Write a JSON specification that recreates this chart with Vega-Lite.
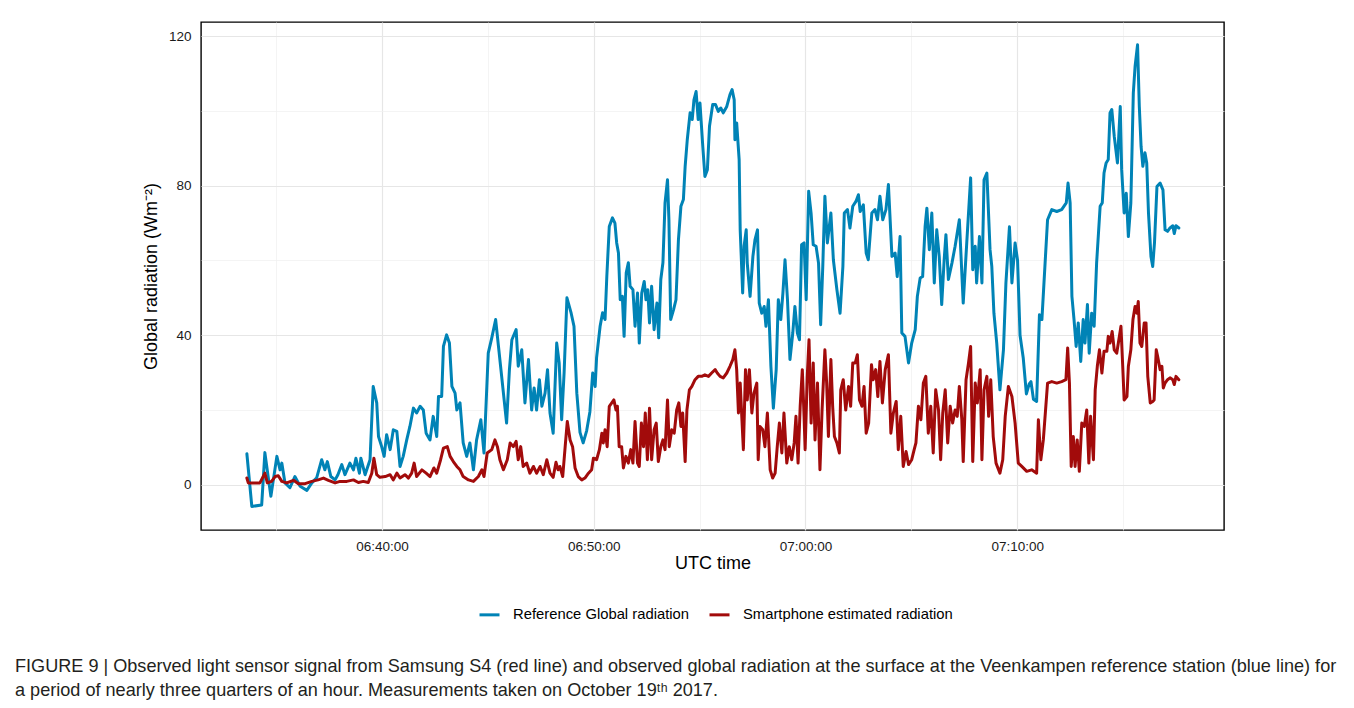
{
  "$schema": "https://vega.github.io/schema/vega-lite/v6.json",
  "width": 1023,
  "height": 508,
  "autosize": {"type": "none"},
  "padding": {"left": 201, "top": 22, "right": 130, "bottom": 178},
  "background": "white",
  "config": {
    "font": "Liberation Sans",
    "view": {"stroke": "#000000", "strokeWidth": 1.4},
    "axis": {
      "domain": false,
      "ticks": false,
      "labelFont": "Liberation Sans",
      "labelFontSize": 13.5,
      "labelColor": "#1a1a1a",
      "titleFont": "Liberation Sans",
      "titleFontSize": 18,
      "titleFontWeight": "normal",
      "titleColor": "#000000"
    }
  },
  "title": {
    "text": [
      "FIGURE 9 | Observed light sensor signal from Samsung S4 (red line) and observed global radiation at the surface at the Veenkampen reference station (blue line) for",
      "a period of nearly three quarters of an hour. Measurements taken on October 19ᵗʰ 2017."
    ],
    "orient": "bottom",
    "anchor": "start",
    "frame": "group",
    "dx": -186,
    "offset": 36,
    "font": "Liberation Sans",
    "fontSize": 18.1,
    "fontWeight": "normal",
    "lineHeight": 24,
    "color": "#231f20"
  },
  "datasets": {
    "ref": [
      {"t":"2017-10-19T06:33:37Z","v":8.3},{"t":"2017-10-19T06:33:51Z","v":-5.8},{"t":"2017-10-19T06:34:19Z","v":-5.4},{"t":"2017-10-19T06:34:28Z","v":8.6},{"t":"2017-10-19T06:34:45Z","v":-3.1},{"t":"2017-10-19T06:35:02Z","v":7.6},{"t":"2017-10-19T06:35:11Z","v":4.0},{"t":"2017-10-19T06:35:16Z","v":5.8},{"t":"2017-10-19T06:35:25Z","v":0.5},{"t":"2017-10-19T06:35:39Z","v":-0.8},{"t":"2017-10-19T06:35:53Z","v":2.2},{"t":"2017-10-19T06:36:08Z","v":-0.4},{"t":"2017-10-19T06:36:27Z","v":-1.5},{"t":"2017-10-19T06:36:41Z","v":0.5},{"t":"2017-10-19T06:36:55Z","v":1.9},{"t":"2017-10-19T06:37:09Z","v":6.7},{"t":"2017-10-19T06:37:18Z","v":4.0},{"t":"2017-10-19T06:37:25Z","v":6.2},{"t":"2017-10-19T06:37:35Z","v":2.2},{"t":"2017-10-19T06:37:47Z","v":1.3},{"t":"2017-10-19T06:37:55Z","v":2.7},{"t":"2017-10-19T06:38:06Z","v":5.4},{"t":"2017-10-19T06:38:15Z","v":2.7},{"t":"2017-10-19T06:38:29Z","v":5.8},{"t":"2017-10-19T06:38:39Z","v":4.0},{"t":"2017-10-19T06:38:46Z","v":7.1},{"t":"2017-10-19T06:38:56Z","v":3.1},{"t":"2017-10-19T06:39:00Z","v":7.1},{"t":"2017-10-19T06:39:12Z","v":2.7},{"t":"2017-10-19T06:39:26Z","v":6.7},{"t":"2017-10-19T06:39:35Z","v":26.3},{"t":"2017-10-19T06:39:45Z","v":21.9},{"t":"2017-10-19T06:39:50Z","v":12.9},{"t":"2017-10-19T06:39:59Z","v":10.2},{"t":"2017-10-19T06:40:06Z","v":7.6},{"t":"2017-10-19T06:40:13Z","v":13.4},{"t":"2017-10-19T06:40:23Z","v":9.4},{"t":"2017-10-19T06:40:32Z","v":14.7},{"t":"2017-10-19T06:40:42Z","v":14.3},{"t":"2017-10-19T06:40:51Z","v":4.9},{"t":"2017-10-19T06:41:00Z","v":7.6},{"t":"2017-10-19T06:41:10Z","v":12.0},{"t":"2017-10-19T06:41:19Z","v":15.6},{"t":"2017-10-19T06:41:29Z","v":20.5},{"t":"2017-10-19T06:41:38Z","v":19.2},{"t":"2017-10-19T06:41:48Z","v":21.0},{"t":"2017-10-19T06:41:57Z","v":20.0},{"t":"2017-10-19T06:42:05Z","v":13.8},{"t":"2017-10-19T06:42:16Z","v":12.0},{"t":"2017-10-19T06:42:25Z","v":18.3},{"t":"2017-10-19T06:42:35Z","v":12.9},{"t":"2017-10-19T06:42:40Z","v":23.6},{"t":"2017-10-19T06:42:49Z","v":23.6},{"t":"2017-10-19T06:42:54Z","v":37.0},{"t":"2017-10-19T06:43:03Z","v":40.1},{"t":"2017-10-19T06:43:11Z","v":37.9},{"t":"2017-10-19T06:43:18Z","v":26.3},{"t":"2017-10-19T06:43:27Z","v":24.5},{"t":"2017-10-19T06:43:32Z","v":20.0},{"t":"2017-10-19T06:43:41Z","v":21.9},{"t":"2017-10-19T06:43:50Z","v":11.2},{"t":"2017-10-19T06:44:00Z","v":7.6},{"t":"2017-10-19T06:44:09Z","v":11.2},{"t":"2017-10-19T06:44:19Z","v":4.0},{"t":"2017-10-19T06:44:28Z","v":12.0},{"t":"2017-10-19T06:44:40Z","v":17.4},{"t":"2017-10-19T06:44:49Z","v":8.5},{"t":"2017-10-19T06:45:01Z","v":35.2},{"t":"2017-10-19T06:45:11Z","v":39.3},{"t":"2017-10-19T06:45:22Z","v":44.2},{"t":"2017-10-19T06:45:30Z","v":37.0},{"t":"2017-10-19T06:45:39Z","v":29.0},{"t":"2017-10-19T06:45:53Z","v":16.5},{"t":"2017-10-19T06:46:01Z","v":30.8},{"t":"2017-10-19T06:46:08Z","v":38.8},{"t":"2017-10-19T06:46:20Z","v":41.5},{"t":"2017-10-19T06:46:26Z","v":31.7},{"t":"2017-10-19T06:46:36Z","v":36.1},{"t":"2017-10-19T06:46:45Z","v":21.9},{"t":"2017-10-19T06:46:55Z","v":33.5},{"t":"2017-10-19T06:47:04Z","v":20.0},{"t":"2017-10-19T06:47:11Z","v":25.9},{"t":"2017-10-19T06:47:18Z","v":20.0},{"t":"2017-10-19T06:47:26Z","v":28.1},{"t":"2017-10-19T06:47:33Z","v":21.0},{"t":"2017-10-19T06:47:42Z","v":24.5},{"t":"2017-10-19T06:47:49Z","v":30.8},{"t":"2017-10-19T06:47:56Z","v":19.2},{"t":"2017-10-19T06:48:05Z","v":13.8},{"t":"2017-10-19T06:48:15Z","v":37.9},{"t":"2017-10-19T06:48:22Z","v":32.6},{"t":"2017-10-19T06:48:29Z","v":17.4},{"t":"2017-10-19T06:48:36Z","v":30.0},{"t":"2017-10-19T06:48:44Z","v":50.0},{"t":"2017-10-19T06:48:56Z","v":45.9},{"t":"2017-10-19T06:49:04Z","v":42.4},{"t":"2017-10-19T06:49:12Z","v":24.5},{"t":"2017-10-19T06:49:21Z","v":14.0},{"t":"2017-10-19T06:49:30Z","v":11.2},{"t":"2017-10-19T06:49:40Z","v":14.5},{"t":"2017-10-19T06:49:49Z","v":19.5},{"t":"2017-10-19T06:49:57Z","v":29.9},{"t":"2017-10-19T06:50:04Z","v":26.3},{"t":"2017-10-19T06:50:08Z","v":34.0},{"t":"2017-10-19T06:50:18Z","v":42.4},{"t":"2017-10-19T06:50:25Z","v":46.0},{"t":"2017-10-19T06:50:32Z","v":44.2},{"t":"2017-10-19T06:50:37Z","v":55.7},{"t":"2017-10-19T06:50:44Z","v":69.1},{"t":"2017-10-19T06:50:53Z","v":71.4},{"t":"2017-10-19T06:51:00Z","v":70.0},{"t":"2017-10-19T06:51:05Z","v":64.7},{"t":"2017-10-19T06:51:10Z","v":62.0},{"t":"2017-10-19T06:51:15Z","v":49.5},{"t":"2017-10-19T06:51:21Z","v":50.4},{"t":"2017-10-19T06:51:26Z","v":39.7},{"t":"2017-10-19T06:51:32Z","v":56.7},{"t":"2017-10-19T06:51:38Z","v":59.4},{"t":"2017-10-19T06:51:43Z","v":53.1},{"t":"2017-10-19T06:51:51Z","v":52.2},{"t":"2017-10-19T06:51:57Z","v":42.4},{"t":"2017-10-19T06:52:04Z","v":51.3},{"t":"2017-10-19T06:52:09Z","v":37.9},{"t":"2017-10-19T06:52:16Z","v":51.3},{"t":"2017-10-19T06:52:23Z","v":54.4},{"t":"2017-10-19T06:52:28Z","v":49.5},{"t":"2017-10-19T06:52:33Z","v":52.2},{"t":"2017-10-19T06:52:38Z","v":43.3},{"t":"2017-10-19T06:52:44Z","v":53.1},{"t":"2017-10-19T06:52:51Z","v":41.5},{"t":"2017-10-19T06:52:59Z","v":48.6},{"t":"2017-10-19T06:53:04Z","v":39.3},{"t":"2017-10-19T06:53:10Z","v":54.9},{"t":"2017-10-19T06:53:16Z","v":59.4},{"t":"2017-10-19T06:53:22Z","v":75.4},{"t":"2017-10-19T06:53:29Z","v":81.6},{"t":"2017-10-19T06:53:33Z","v":70.9},{"t":"2017-10-19T06:53:38Z","v":44.2},{"t":"2017-10-19T06:53:46Z","v":46.8},{"t":"2017-10-19T06:53:53Z","v":49.5},{"t":"2017-10-19T06:54:00Z","v":65.6},{"t":"2017-10-19T06:54:07Z","v":74.5},{"t":"2017-10-19T06:54:14Z","v":76.3},{"t":"2017-10-19T06:54:19Z","v":85.2},{"t":"2017-10-19T06:54:25Z","v":92.3},{"t":"2017-10-19T06:54:33Z","v":99.5},{"t":"2017-10-19T06:54:39Z","v":97.7},{"t":"2017-10-19T06:54:44Z","v":103.0},{"t":"2017-10-19T06:54:50Z","v":105.2},{"t":"2017-10-19T06:54:56Z","v":97.7},{"t":"2017-10-19T06:55:01Z","v":102.1},{"t":"2017-10-19T06:55:09Z","v":90.5},{"t":"2017-10-19T06:55:15Z","v":82.5},{"t":"2017-10-19T06:55:22Z","v":84.3},{"t":"2017-10-19T06:55:28Z","v":95.9},{"t":"2017-10-19T06:55:37Z","v":101.7},{"t":"2017-10-19T06:55:45Z","v":101.7},{"t":"2017-10-19T06:55:53Z","v":99.9},{"t":"2017-10-19T06:56:00Z","v":100.8},{"t":"2017-10-19T06:56:07Z","v":99.5},{"t":"2017-10-19T06:56:17Z","v":101.2},{"t":"2017-10-19T06:56:26Z","v":104.4},{"t":"2017-10-19T06:56:32Z","v":105.7},{"t":"2017-10-19T06:56:38Z","v":103.0},{"t":"2017-10-19T06:56:40Z","v":92.3},{"t":"2017-10-19T06:56:45Z","v":96.8},{"t":"2017-10-19T06:56:52Z","v":87.0},{"t":"2017-10-19T06:56:55Z","v":68.2},{"t":"2017-10-19T06:57:02Z","v":51.3},{"t":"2017-10-19T06:57:06Z","v":63.8},{"t":"2017-10-19T06:57:12Z","v":68.2},{"t":"2017-10-19T06:57:15Z","v":59.3},{"t":"2017-10-19T06:57:23Z","v":50.4},{"t":"2017-10-19T06:57:31Z","v":61.1},{"t":"2017-10-19T06:57:37Z","v":65.6},{"t":"2017-10-19T06:57:44Z","v":68.2},{"t":"2017-10-19T06:57:49Z","v":48.6},{"t":"2017-10-19T06:57:56Z","v":45.9},{"t":"2017-10-19T06:58:03Z","v":47.7},{"t":"2017-10-19T06:58:08Z","v":42.4},{"t":"2017-10-19T06:58:15Z","v":49.5},{"t":"2017-10-19T06:58:22Z","v":31.7},{"t":"2017-10-19T06:58:29Z","v":20.5},{"t":"2017-10-19T06:58:37Z","v":30.8},{"t":"2017-10-19T06:58:43Z","v":49.5},{"t":"2017-10-19T06:58:50Z","v":44.2},{"t":"2017-10-19T06:58:56Z","v":51.3},{"t":"2017-10-19T06:59:02Z","v":60.2},{"t":"2017-10-19T06:59:09Z","v":49.5},{"t":"2017-10-19T06:59:16Z","v":33.5},{"t":"2017-10-19T06:59:24Z","v":40.6},{"t":"2017-10-19T06:59:30Z","v":47.7},{"t":"2017-10-19T06:59:37Z","v":40.6},{"t":"2017-10-19T06:59:43Z","v":38.8},{"t":"2017-10-19T06:59:49Z","v":64.2},{"t":"2017-10-19T06:59:56Z","v":64.7},{"t":"2017-10-19T07:00:02Z","v":49.5},{"t":"2017-10-19T07:00:09Z","v":78.5},{"t":"2017-10-19T07:00:16Z","v":72.5},{"t":"2017-10-19T07:00:22Z","v":64.2},{"t":"2017-10-19T07:00:30Z","v":63.8},{"t":"2017-10-19T07:00:37Z","v":59.3},{"t":"2017-10-19T07:00:43Z","v":42.8},{"t":"2017-10-19T07:00:49Z","v":58.4},{"t":"2017-10-19T07:00:55Z","v":77.2},{"t":"2017-10-19T07:01:02Z","v":64.7},{"t":"2017-10-19T07:01:12Z","v":72.7},{"t":"2017-10-19T07:01:19Z","v":60.2},{"t":"2017-10-19T07:01:29Z","v":52.2},{"t":"2017-10-19T07:01:38Z","v":45.9},{"t":"2017-10-19T07:01:46Z","v":58.4},{"t":"2017-10-19T07:01:50Z","v":72.7},{"t":"2017-10-19T07:01:59Z","v":73.6},{"t":"2017-10-19T07:02:06Z","v":68.7},{"t":"2017-10-19T07:02:14Z","v":74.5},{"t":"2017-10-19T07:02:23Z","v":75.8},{"t":"2017-10-19T07:02:30Z","v":77.6},{"t":"2017-10-19T07:02:35Z","v":73.1},{"t":"2017-10-19T07:02:44Z","v":74.9},{"t":"2017-10-19T07:02:52Z","v":62.0},{"t":"2017-10-19T07:02:58Z","v":60.2},{"t":"2017-10-19T07:03:08Z","v":72.7},{"t":"2017-10-19T07:03:17Z","v":73.6},{"t":"2017-10-19T07:03:24Z","v":70.9},{"t":"2017-10-19T07:03:31Z","v":77.2},{"t":"2017-10-19T07:03:39Z","v":70.9},{"t":"2017-10-19T07:03:48Z","v":73.6},{"t":"2017-10-19T07:03:55Z","v":80.3},{"t":"2017-10-19T07:04:05Z","v":61.1},{"t":"2017-10-19T07:04:14Z","v":62.0},{"t":"2017-10-19T07:04:20Z","v":55.7},{"t":"2017-10-19T07:04:28Z","v":66.4},{"t":"2017-10-19T07:04:33Z","v":40.6},{"t":"2017-10-19T07:04:42Z","v":39.7},{"t":"2017-10-19T07:04:52Z","v":32.6},{"t":"2017-10-19T07:05:01Z","v":37.9},{"t":"2017-10-19T07:05:11Z","v":41.5},{"t":"2017-10-19T07:05:17Z","v":50.4},{"t":"2017-10-19T07:05:25Z","v":55.3},{"t":"2017-10-19T07:05:32Z","v":55.7},{"t":"2017-10-19T07:05:39Z","v":69.1},{"t":"2017-10-19T07:05:44Z","v":74.0},{"t":"2017-10-19T07:05:51Z","v":62.9},{"t":"2017-10-19T07:05:58Z","v":72.7},{"t":"2017-10-19T07:06:05Z","v":54.0},{"t":"2017-10-19T07:06:12Z","v":68.2},{"t":"2017-10-19T07:06:19Z","v":61.1},{"t":"2017-10-19T07:06:26Z","v":48.2},{"t":"2017-10-19T07:06:33Z","v":60.2},{"t":"2017-10-19T07:06:38Z","v":66.9},{"t":"2017-10-19T07:06:45Z","v":54.9},{"t":"2017-10-19T07:06:55Z","v":59.3},{"t":"2017-10-19T07:07:04Z","v":63.8},{"t":"2017-10-19T07:07:16Z","v":70.9},{"t":"2017-10-19T07:07:27Z","v":48.6},{"t":"2017-10-19T07:07:37Z","v":64.7},{"t":"2017-10-19T07:07:48Z","v":82.1},{"t":"2017-10-19T07:07:54Z","v":57.5},{"t":"2017-10-19T07:08:01Z","v":63.8},{"t":"2017-10-19T07:08:05Z","v":54.0},{"t":"2017-10-19T07:08:13Z","v":66.4},{"t":"2017-10-19T07:08:20Z","v":54.0},{"t":"2017-10-19T07:08:26Z","v":81.6},{"t":"2017-10-19T07:08:34Z","v":83.4},{"t":"2017-10-19T07:08:43Z","v":62.9},{"t":"2017-10-19T07:08:48Z","v":58.4},{"t":"2017-10-19T07:08:54Z","v":45.9},{"t":"2017-10-19T07:09:02Z","v":37.9},{"t":"2017-10-19T07:09:11Z","v":25.4},{"t":"2017-10-19T07:09:21Z","v":36.1},{"t":"2017-10-19T07:09:28Z","v":54.0},{"t":"2017-10-19T07:09:38Z","v":69.0},{"t":"2017-10-19T07:09:45Z","v":54.0},{"t":"2017-10-19T07:09:54Z","v":64.7},{"t":"2017-10-19T07:10:01Z","v":60.0},{"t":"2017-10-19T07:10:08Z","v":40.0},{"t":"2017-10-19T07:10:17Z","v":34.0},{"t":"2017-10-19T07:10:26Z","v":24.3},{"t":"2017-10-19T07:10:34Z","v":27.0},{"t":"2017-10-19T07:10:39Z","v":27.6},{"t":"2017-10-19T07:10:46Z","v":22.9},{"t":"2017-10-19T07:10:55Z","v":22.3},{"t":"2017-10-19T07:11:03Z","v":45.5},{"t":"2017-10-19T07:11:10Z","v":44.2},{"t":"2017-10-19T07:11:19Z","v":59.3},{"t":"2017-10-19T07:11:26Z","v":70.9},{"t":"2017-10-19T07:11:38Z","v":73.6},{"t":"2017-10-19T07:11:52Z","v":73.1},{"t":"2017-10-19T07:12:06Z","v":73.6},{"t":"2017-10-19T07:12:19Z","v":75.4},{"t":"2017-10-19T07:12:24Z","v":80.7},{"t":"2017-10-19T07:12:30Z","v":75.4},{"t":"2017-10-19T07:12:35Z","v":50.4},{"t":"2017-10-19T07:12:41Z","v":44.2},{"t":"2017-10-19T07:12:47Z","v":37.0},{"t":"2017-10-19T07:12:53Z","v":43.3},{"t":"2017-10-19T07:13:00Z","v":33.0},{"t":"2017-10-19T07:13:07Z","v":44.2},{"t":"2017-10-19T07:13:12Z","v":37.9},{"t":"2017-10-19T07:13:19Z","v":48.2},{"t":"2017-10-19T07:13:24Z","v":35.2},{"t":"2017-10-19T07:13:31Z","v":45.9},{"t":"2017-10-19T07:13:38Z","v":42.4},{"t":"2017-10-19T07:13:45Z","v":59.3},{"t":"2017-10-19T07:13:55Z","v":74.5},{"t":"2017-10-19T07:14:01Z","v":75.4},{"t":"2017-10-19T07:14:06Z","v":83.4},{"t":"2017-10-19T07:14:12Z","v":86.1},{"t":"2017-10-19T07:14:18Z","v":87.0},{"t":"2017-10-19T07:14:23Z","v":99.5},{"t":"2017-10-19T07:14:28Z","v":100.4},{"t":"2017-10-19T07:14:35Z","v":93.2},{"t":"2017-10-19T07:14:44Z","v":86.1},{"t":"2017-10-19T07:14:52Z","v":101.2},{"t":"2017-10-19T07:14:56Z","v":84.3},{"t":"2017-10-19T07:15:03Z","v":72.7},{"t":"2017-10-19T07:15:09Z","v":78.0},{"t":"2017-10-19T07:15:15Z","v":66.4},{"t":"2017-10-19T07:15:22Z","v":75.4},{"t":"2017-10-19T07:15:29Z","v":104.8},{"t":"2017-10-19T07:15:34Z","v":111.9},{"t":"2017-10-19T07:15:41Z","v":117.7},{"t":"2017-10-19T07:15:46Z","v":101.2},{"t":"2017-10-19T07:15:51Z","v":90.5},{"t":"2017-10-19T07:15:56Z","v":85.2},{"t":"2017-10-19T07:16:02Z","v":88.8},{"t":"2017-10-19T07:16:07Z","v":86.1},{"t":"2017-10-19T07:16:12Z","v":72.7},{"t":"2017-10-19T07:16:19Z","v":61.1},{"t":"2017-10-19T07:16:24Z","v":58.4},{"t":"2017-10-19T07:16:29Z","v":64.7},{"t":"2017-10-19T07:16:36Z","v":79.8},{"t":"2017-10-19T07:16:45Z","v":80.7},{"t":"2017-10-19T07:16:53Z","v":78.9},{"t":"2017-10-19T07:16:59Z","v":68.2},{"t":"2017-10-19T07:17:06Z","v":67.8},{"t":"2017-10-19T07:17:13Z","v":68.7},{"t":"2017-10-19T07:17:21Z","v":69.3},{"t":"2017-10-19T07:17:25Z","v":67.2},{"t":"2017-10-19T07:17:30Z","v":69.3},{"t":"2017-10-19T07:17:38Z","v":68.7}
    ],
    "phone": [
      {"t":"2017-10-19T06:33:37Z","v":1.8},{"t":"2017-10-19T06:33:41Z","v":0.5},{"t":"2017-10-19T06:34:14Z","v":0.5},{"t":"2017-10-19T06:34:28Z","v":3.1},{"t":"2017-10-19T06:34:35Z","v":0.5},{"t":"2017-10-19T06:34:47Z","v":0.9},{"t":"2017-10-19T06:34:57Z","v":2.2},{"t":"2017-10-19T06:35:06Z","v":2.4},{"t":"2017-10-19T06:35:16Z","v":0.9},{"t":"2017-10-19T06:35:30Z","v":0.5},{"t":"2017-10-19T06:35:49Z","v":1.2},{"t":"2017-10-19T06:36:03Z","v":0.3},{"t":"2017-10-19T06:36:22Z","v":0.3},{"t":"2017-10-19T06:36:41Z","v":0.9},{"t":"2017-10-19T06:36:59Z","v":1.3},{"t":"2017-10-19T06:37:14Z","v":1.8},{"t":"2017-10-19T06:37:28Z","v":1.2},{"t":"2017-10-19T06:37:47Z","v":0.5},{"t":"2017-10-19T06:38:01Z","v":0.9},{"t":"2017-10-19T06:38:20Z","v":0.9},{"t":"2017-10-19T06:38:39Z","v":1.3},{"t":"2017-10-19T06:38:53Z","v":0.6},{"t":"2017-10-19T06:39:07Z","v":0.9},{"t":"2017-10-19T06:39:21Z","v":0.6},{"t":"2017-10-19T06:39:31Z","v":3.1},{"t":"2017-10-19T06:39:37Z","v":7.1},{"t":"2017-10-19T06:39:45Z","v":2.7},{"t":"2017-10-19T06:39:54Z","v":2.0},{"t":"2017-10-19T06:40:09Z","v":2.2},{"t":"2017-10-19T06:40:23Z","v":2.7},{"t":"2017-10-19T06:40:32Z","v":1.3},{"t":"2017-10-19T06:40:42Z","v":3.1},{"t":"2017-10-19T06:40:51Z","v":1.8},{"t":"2017-10-19T06:41:05Z","v":2.7},{"t":"2017-10-19T06:41:15Z","v":1.8},{"t":"2017-10-19T06:41:24Z","v":3.1},{"t":"2017-10-19T06:41:31Z","v":5.8},{"t":"2017-10-19T06:41:38Z","v":2.2},{"t":"2017-10-19T06:41:53Z","v":4.0},{"t":"2017-10-19T06:42:05Z","v":3.1},{"t":"2017-10-19T06:42:16Z","v":2.2},{"t":"2017-10-19T06:42:27Z","v":4.5},{"t":"2017-10-19T06:42:35Z","v":3.1},{"t":"2017-10-19T06:42:46Z","v":6.7},{"t":"2017-10-19T06:42:54Z","v":9.8},{"t":"2017-10-19T06:43:05Z","v":10.2},{"t":"2017-10-19T06:43:13Z","v":7.6},{"t":"2017-10-19T06:43:22Z","v":6.2},{"t":"2017-10-19T06:43:32Z","v":4.9},{"t":"2017-10-19T06:43:41Z","v":4.0},{"t":"2017-10-19T06:43:50Z","v":2.2},{"t":"2017-10-19T06:44:05Z","v":1.3},{"t":"2017-10-19T06:44:19Z","v":0.9},{"t":"2017-10-19T06:44:33Z","v":2.2},{"t":"2017-10-19T06:44:43Z","v":4.0},{"t":"2017-10-19T06:44:49Z","v":2.2},{"t":"2017-10-19T06:44:58Z","v":8.5},{"t":"2017-10-19T06:45:11Z","v":9.4},{"t":"2017-10-19T06:45:20Z","v":12.0},{"t":"2017-10-19T06:45:27Z","v":10.2},{"t":"2017-10-19T06:45:34Z","v":6.7},{"t":"2017-10-19T06:45:44Z","v":4.0},{"t":"2017-10-19T06:45:55Z","v":6.7},{"t":"2017-10-19T06:46:03Z","v":11.2},{"t":"2017-10-19T06:46:12Z","v":10.2},{"t":"2017-10-19T06:46:20Z","v":11.6},{"t":"2017-10-19T06:46:26Z","v":6.7},{"t":"2017-10-19T06:46:33Z","v":10.2},{"t":"2017-10-19T06:46:40Z","v":4.9},{"t":"2017-10-19T06:46:50Z","v":5.8},{"t":"2017-10-19T06:46:59Z","v":3.1},{"t":"2017-10-19T06:47:09Z","v":4.9},{"t":"2017-10-19T06:47:18Z","v":3.1},{"t":"2017-10-19T06:47:28Z","v":4.9},{"t":"2017-10-19T06:47:37Z","v":2.7},{"t":"2017-10-19T06:47:47Z","v":6.7},{"t":"2017-10-19T06:47:56Z","v":3.1},{"t":"2017-10-19T06:48:05Z","v":2.0},{"t":"2017-10-19T06:48:13Z","v":6.0},{"t":"2017-10-19T06:48:19Z","v":4.0},{"t":"2017-10-19T06:48:24Z","v":4.9},{"t":"2017-10-19T06:48:32Z","v":2.2},{"t":"2017-10-19T06:48:39Z","v":10.2},{"t":"2017-10-19T06:48:45Z","v":16.9},{"t":"2017-10-19T06:48:53Z","v":12.0},{"t":"2017-10-19T06:49:00Z","v":10.2},{"t":"2017-10-19T06:49:07Z","v":4.5},{"t":"2017-10-19T06:49:16Z","v":2.2},{"t":"2017-10-19T06:49:26Z","v":1.3},{"t":"2017-10-19T06:49:35Z","v":1.8},{"t":"2017-10-19T06:49:45Z","v":3.1},{"t":"2017-10-19T06:49:54Z","v":4.0},{"t":"2017-10-19T06:49:59Z","v":7.1},{"t":"2017-10-19T06:50:08Z","v":6.7},{"t":"2017-10-19T06:50:16Z","v":9.4},{"t":"2017-10-19T06:50:23Z","v":13.8},{"t":"2017-10-19T06:50:27Z","v":11.2},{"t":"2017-10-19T06:50:32Z","v":14.7},{"t":"2017-10-19T06:50:38Z","v":10.2},{"t":"2017-10-19T06:50:44Z","v":21.0},{"t":"2017-10-19T06:50:51Z","v":21.9},{"t":"2017-10-19T06:50:57Z","v":22.7},{"t":"2017-10-19T06:51:03Z","v":20.0},{"t":"2017-10-19T06:51:07Z","v":21.0},{"t":"2017-10-19T06:51:12Z","v":10.2},{"t":"2017-10-19T06:51:19Z","v":10.2},{"t":"2017-10-19T06:51:24Z","v":4.5},{"t":"2017-10-19T06:51:31Z","v":7.6},{"t":"2017-10-19T06:51:38Z","v":5.8},{"t":"2017-10-19T06:51:45Z","v":9.4},{"t":"2017-10-19T06:51:51Z","v":5.8},{"t":"2017-10-19T06:51:57Z","v":16.9},{"t":"2017-10-19T06:52:04Z","v":5.8},{"t":"2017-10-19T06:52:09Z","v":4.9},{"t":"2017-10-19T06:52:15Z","v":16.5},{"t":"2017-10-19T06:52:21Z","v":10.2},{"t":"2017-10-19T06:52:26Z","v":19.2},{"t":"2017-10-19T06:52:32Z","v":6.7},{"t":"2017-10-19T06:52:38Z","v":20.5},{"t":"2017-10-19T06:52:44Z","v":6.7},{"t":"2017-10-19T06:52:51Z","v":14.7},{"t":"2017-10-19T06:52:57Z","v":16.5},{"t":"2017-10-19T06:53:03Z","v":6.2},{"t":"2017-10-19T06:53:10Z","v":10.2},{"t":"2017-10-19T06:53:16Z","v":12.0},{"t":"2017-10-19T06:53:22Z","v":9.4},{"t":"2017-10-19T06:53:29Z","v":22.7},{"t":"2017-10-19T06:53:34Z","v":10.2},{"t":"2017-10-19T06:53:41Z","v":14.7},{"t":"2017-10-19T06:53:48Z","v":13.8},{"t":"2017-10-19T06:53:55Z","v":20.0},{"t":"2017-10-19T06:54:01Z","v":21.9},{"t":"2017-10-19T06:54:07Z","v":15.6},{"t":"2017-10-19T06:54:12Z","v":19.2},{"t":"2017-10-19T06:54:19Z","v":6.2},{"t":"2017-10-19T06:54:24Z","v":20.0},{"t":"2017-10-19T06:54:31Z","v":25.4},{"t":"2017-10-19T06:54:38Z","v":26.3},{"t":"2017-10-19T06:54:47Z","v":28.1},{"t":"2017-10-19T06:54:56Z","v":29.0},{"t":"2017-10-19T06:55:06Z","v":29.0},{"t":"2017-10-19T06:55:15Z","v":29.4},{"t":"2017-10-19T06:55:25Z","v":29.0},{"t":"2017-10-19T06:55:34Z","v":29.9},{"t":"2017-10-19T06:55:44Z","v":30.8},{"t":"2017-10-19T06:55:50Z","v":29.9},{"t":"2017-10-19T06:55:58Z","v":29.0},{"t":"2017-10-19T06:56:07Z","v":28.6},{"t":"2017-10-19T06:56:17Z","v":29.9},{"t":"2017-10-19T06:56:26Z","v":31.7},{"t":"2017-10-19T06:56:34Z","v":33.5},{"t":"2017-10-19T06:56:40Z","v":36.1},{"t":"2017-10-19T06:56:45Z","v":30.8},{"t":"2017-10-19T06:56:50Z","v":19.2},{"t":"2017-10-19T06:56:55Z","v":27.2},{"t":"2017-10-19T06:56:59Z","v":19.2},{"t":"2017-10-19T06:57:04Z","v":9.4},{"t":"2017-10-19T06:57:10Z","v":30.8},{"t":"2017-10-19T06:57:15Z","v":22.7},{"t":"2017-10-19T06:57:21Z","v":30.8},{"t":"2017-10-19T06:57:28Z","v":19.2},{"t":"2017-10-19T06:57:34Z","v":24.5},{"t":"2017-10-19T06:57:42Z","v":27.2},{"t":"2017-10-19T06:57:46Z","v":6.7},{"t":"2017-10-19T06:57:51Z","v":15.6},{"t":"2017-10-19T06:57:59Z","v":14.7},{"t":"2017-10-19T06:58:05Z","v":10.2},{"t":"2017-10-19T06:58:12Z","v":19.2},{"t":"2017-10-19T06:58:20Z","v":4.0},{"t":"2017-10-19T06:58:27Z","v":1.8},{"t":"2017-10-19T06:58:34Z","v":3.1},{"t":"2017-10-19T06:58:40Z","v":10.2},{"t":"2017-10-19T06:58:46Z","v":16.5},{"t":"2017-10-19T06:58:53Z","v":8.5},{"t":"2017-10-19T06:58:59Z","v":19.2},{"t":"2017-10-19T06:59:07Z","v":5.8},{"t":"2017-10-19T06:59:14Z","v":10.2},{"t":"2017-10-19T06:59:21Z","v":6.7},{"t":"2017-10-19T06:59:28Z","v":11.2},{"t":"2017-10-19T06:59:33Z","v":18.3},{"t":"2017-10-19T06:59:39Z","v":5.8},{"t":"2017-10-19T06:59:45Z","v":21.0},{"t":"2017-10-19T06:59:51Z","v":30.8},{"t":"2017-10-19T06:59:56Z","v":18.3},{"t":"2017-10-19T06:59:59Z","v":9.4},{"t":"2017-10-19T07:00:05Z","v":29.0},{"t":"2017-10-19T07:00:10Z","v":38.8},{"t":"2017-10-19T07:00:16Z","v":16.5},{"t":"2017-10-19T07:00:22Z","v":32.6},{"t":"2017-10-19T07:00:27Z","v":12.0},{"t":"2017-10-19T07:00:34Z","v":27.2},{"t":"2017-10-19T07:00:41Z","v":4.0},{"t":"2017-10-19T07:00:47Z","v":20.0},{"t":"2017-10-19T07:00:55Z","v":36.1},{"t":"2017-10-19T07:01:00Z","v":27.2},{"t":"2017-10-19T07:01:05Z","v":12.9},{"t":"2017-10-19T07:01:12Z","v":33.5},{"t":"2017-10-19T07:01:17Z","v":21.0},{"t":"2017-10-19T07:01:22Z","v":12.9},{"t":"2017-10-19T07:01:29Z","v":11.2},{"t":"2017-10-19T07:01:36Z","v":8.5},{"t":"2017-10-19T07:01:40Z","v":25.4},{"t":"2017-10-19T07:01:47Z","v":28.1},{"t":"2017-10-19T07:01:54Z","v":20.0},{"t":"2017-10-19T07:02:02Z","v":26.3},{"t":"2017-10-19T07:02:08Z","v":21.0},{"t":"2017-10-19T07:02:14Z","v":32.6},{"t":"2017-10-19T07:02:21Z","v":32.6},{"t":"2017-10-19T07:02:27Z","v":34.8},{"t":"2017-10-19T07:02:33Z","v":22.7},{"t":"2017-10-19T07:02:40Z","v":21.0},{"t":"2017-10-19T07:02:46Z","v":26.3},{"t":"2017-10-19T07:02:52Z","v":13.8},{"t":"2017-10-19T07:02:59Z","v":16.5},{"t":"2017-10-19T07:03:07Z","v":32.1},{"t":"2017-10-19T07:03:12Z","v":28.1},{"t":"2017-10-19T07:03:19Z","v":30.8},{"t":"2017-10-19T07:03:25Z","v":23.6},{"t":"2017-10-19T07:03:31Z","v":33.0},{"t":"2017-10-19T07:03:38Z","v":21.9},{"t":"2017-10-19T07:03:46Z","v":30.8},{"t":"2017-10-19T07:03:55Z","v":34.8},{"t":"2017-10-19T07:04:02Z","v":13.8},{"t":"2017-10-19T07:04:09Z","v":19.2},{"t":"2017-10-19T07:04:17Z","v":22.3},{"t":"2017-10-19T07:04:23Z","v":9.4},{"t":"2017-10-19T07:04:30Z","v":18.3},{"t":"2017-10-19T07:04:37Z","v":4.9},{"t":"2017-10-19T07:04:45Z","v":8.9},{"t":"2017-10-19T07:04:52Z","v":5.4},{"t":"2017-10-19T07:05:01Z","v":6.7},{"t":"2017-10-19T07:05:08Z","v":9.4},{"t":"2017-10-19T07:05:13Z","v":11.2},{"t":"2017-10-19T07:05:20Z","v":21.0},{"t":"2017-10-19T07:05:27Z","v":17.4},{"t":"2017-10-19T07:05:34Z","v":27.2},{"t":"2017-10-19T07:05:41Z","v":29.0},{"t":"2017-10-19T07:05:48Z","v":13.8},{"t":"2017-10-19T07:05:55Z","v":21.0},{"t":"2017-10-19T07:06:02Z","v":8.5},{"t":"2017-10-19T07:06:09Z","v":25.4},{"t":"2017-10-19T07:06:17Z","v":20.0},{"t":"2017-10-19T07:06:23Z","v":6.7},{"t":"2017-10-19T07:06:29Z","v":19.2},{"t":"2017-10-19T07:06:36Z","v":25.4},{"t":"2017-10-19T07:06:43Z","v":11.2},{"t":"2017-10-19T07:06:50Z","v":21.0},{"t":"2017-10-19T07:06:57Z","v":16.5},{"t":"2017-10-19T07:07:04Z","v":20.0},{"t":"2017-10-19T07:07:10Z","v":18.3},{"t":"2017-10-19T07:07:16Z","v":26.3},{"t":"2017-10-19T07:07:23Z","v":17.4},{"t":"2017-10-19T07:07:27Z","v":6.2},{"t":"2017-10-19T07:07:35Z","v":28.1},{"t":"2017-10-19T07:07:42Z","v":32.6},{"t":"2017-10-19T07:07:48Z","v":37.0},{"t":"2017-10-19T07:07:54Z","v":6.2},{"t":"2017-10-19T07:08:01Z","v":27.2},{"t":"2017-10-19T07:08:07Z","v":21.9},{"t":"2017-10-19T07:08:15Z","v":30.8},{"t":"2017-10-19T07:08:20Z","v":6.7},{"t":"2017-10-19T07:08:26Z","v":25.4},{"t":"2017-10-19T07:08:34Z","v":29.0},{"t":"2017-10-19T07:08:39Z","v":18.3},{"t":"2017-10-19T07:08:45Z","v":28.1},{"t":"2017-10-19T07:08:52Z","v":12.9},{"t":"2017-10-19T07:09:00Z","v":5.8},{"t":"2017-10-19T07:09:11Z","v":3.1},{"t":"2017-10-19T07:09:19Z","v":6.7},{"t":"2017-10-19T07:09:26Z","v":18.3},{"t":"2017-10-19T07:09:35Z","v":26.3},{"t":"2017-10-19T07:09:45Z","v":23.6},{"t":"2017-10-19T07:09:54Z","v":16.5},{"t":"2017-10-19T07:10:03Z","v":5.8},{"t":"2017-10-19T07:10:13Z","v":4.9},{"t":"2017-10-19T07:10:27Z","v":3.6},{"t":"2017-10-19T07:10:41Z","v":4.0},{"t":"2017-10-19T07:10:55Z","v":3.1},{"t":"2017-10-19T07:11:00Z","v":17.4},{"t":"2017-10-19T07:11:07Z","v":6.7},{"t":"2017-10-19T07:11:14Z","v":12.0},{"t":"2017-10-19T07:11:26Z","v":27.2},{"t":"2017-10-19T07:11:38Z","v":27.6},{"t":"2017-10-19T07:11:52Z","v":27.2},{"t":"2017-10-19T07:12:06Z","v":27.6},{"t":"2017-10-19T07:12:18Z","v":28.1},{"t":"2017-10-19T07:12:23Z","v":36.6},{"t":"2017-10-19T07:12:28Z","v":27.2},{"t":"2017-10-19T07:12:33Z","v":4.9},{"t":"2017-10-19T07:12:39Z","v":12.9},{"t":"2017-10-19T07:12:44Z","v":4.9},{"t":"2017-10-19T07:12:50Z","v":12.0},{"t":"2017-10-19T07:12:56Z","v":3.6},{"t":"2017-10-19T07:13:03Z","v":16.5},{"t":"2017-10-19T07:13:10Z","v":15.6},{"t":"2017-10-19T07:13:17Z","v":20.0},{"t":"2017-10-19T07:13:23Z","v":5.8},{"t":"2017-10-19T07:13:28Z","v":18.3},{"t":"2017-10-19T07:13:36Z","v":6.7},{"t":"2017-10-19T07:13:41Z","v":25.4},{"t":"2017-10-19T07:13:47Z","v":31.7},{"t":"2017-10-19T07:13:53Z","v":36.1},{"t":"2017-10-19T07:14:00Z","v":29.9},{"t":"2017-10-19T07:14:06Z","v":35.7},{"t":"2017-10-19T07:14:14Z","v":35.7},{"t":"2017-10-19T07:14:18Z","v":39.7},{"t":"2017-10-19T07:14:23Z","v":37.9},{"t":"2017-10-19T07:14:29Z","v":41.0},{"t":"2017-10-19T07:14:35Z","v":36.1},{"t":"2017-10-19T07:14:42Z","v":35.2},{"t":"2017-10-19T07:14:48Z","v":38.8},{"t":"2017-10-19T07:14:54Z","v":42.4},{"t":"2017-10-19T07:14:59Z","v":31.7},{"t":"2017-10-19T07:15:03Z","v":22.7},{"t":"2017-10-19T07:15:11Z","v":23.6},{"t":"2017-10-19T07:15:15Z","v":31.7},{"t":"2017-10-19T07:15:22Z","v":36.1},{"t":"2017-10-19T07:15:28Z","v":44.2},{"t":"2017-10-19T07:15:34Z","v":47.7},{"t":"2017-10-19T07:15:39Z","v":45.9},{"t":"2017-10-19T07:15:43Z","v":49.0},{"t":"2017-10-19T07:15:48Z","v":37.9},{"t":"2017-10-19T07:15:53Z","v":37.0},{"t":"2017-10-19T07:16:00Z","v":43.3},{"t":"2017-10-19T07:16:05Z","v":43.3},{"t":"2017-10-19T07:16:10Z","v":29.0},{"t":"2017-10-19T07:16:17Z","v":21.9},{"t":"2017-10-19T07:16:24Z","v":22.3},{"t":"2017-10-19T07:16:28Z","v":22.7},{"t":"2017-10-19T07:16:34Z","v":36.1},{"t":"2017-10-19T07:16:38Z","v":34.3},{"t":"2017-10-19T07:16:45Z","v":30.8},{"t":"2017-10-19T07:16:50Z","v":31.7},{"t":"2017-10-19T07:16:54Z","v":25.9},{"t":"2017-10-19T07:16:59Z","v":27.2},{"t":"2017-10-19T07:17:06Z","v":28.1},{"t":"2017-10-19T07:17:13Z","v":28.6},{"t":"2017-10-19T07:17:21Z","v":28.1},{"t":"2017-10-19T07:17:25Z","v":26.8},{"t":"2017-10-19T07:17:30Z","v":29.0},{"t":"2017-10-19T07:17:38Z","v":28.1}
    ]
  },
  "encoding": {
    "x": {
      "field": "t",
      "type": "temporal",
      "title": "UTC time",
      "scale": {
        "type": "utc",
        "domain": [
          {"year": 2017, "month": 10, "date": 19, "hours": 6, "minutes": 31, "seconds": 27, "utc": true},
          {"year": 2017, "month": 10, "date": 19, "hours": 7, "minutes": 19, "seconds": 46, "utc": true}
        ]
      },
      "axis": {
        "values": [
          {"year": 2017, "month": 10, "date": 19, "hours": 6, "minutes": 35, "utc": true},
          {"year": 2017, "month": 10, "date": 19, "hours": 6, "minutes": 40, "utc": true},
          {"year": 2017, "month": 10, "date": 19, "hours": 6, "minutes": 45, "utc": true},
          {"year": 2017, "month": 10, "date": 19, "hours": 6, "minutes": 50, "utc": true},
          {"year": 2017, "month": 10, "date": 19, "hours": 6, "minutes": 55, "utc": true},
          {"year": 2017, "month": 10, "date": 19, "hours": 7, "minutes": 0, "utc": true},
          {"year": 2017, "month": 10, "date": 19, "hours": 7, "minutes": 5, "utc": true},
          {"year": 2017, "month": 10, "date": 19, "hours": 7, "minutes": 10, "utc": true},
          {"year": 2017, "month": 10, "date": 19, "hours": 7, "minutes": 15, "utc": true}
        ],
        "labelExpr": "utcminutes(datum.value) % 10 === 0 ? utcFormat(datum.value, '%H:%M:%S') : ''",
        "labelPadding": 9,
        "titlePadding": 2,
        "gridColor": {"condition": {"test": "utcminutes(datum.value) % 10 === 0", "value": "#e6e6e6"}, "value": "#efefef"},
        "gridWidth": {"condition": {"test": "utcminutes(datum.value) % 10 === 0", "value": 1.2}, "value": 0.7}
      }
    },
    "y": {
      "field": "v",
      "type": "quantitative",
      "title": "Global radiation (Wm⁻²)",
      "scale": {"domain": [-12.1, 123.8], "nice": false, "zero": false},
      "axis": {
        "values": [0, 20, 40, 60, 80, 100, 120],
        "labelExpr": "datum.value % 40 === 0 ? datum.label : ''",
        "labelPadding": 10,
        "titlePadding": 8,
        "gridColor": {"condition": {"test": "datum.value % 40 === 0", "value": "#e6e6e6"}, "value": "#efefef"},
        "gridWidth": {"condition": {"test": "datum.value % 40 === 0", "value": 1.2}, "value": 0.7}
      }
    }
  },
  "layer": [
    {
      "data": {"name": "ref"},
      "mark": {"type": "line", "strokeWidth": 3, "strokeJoin": "round", "strokeCap": "round"},
      "encoding": {
        "color": {
          "datum": "Reference Global radiation",
          "type": "nominal",
          "scale": {"domain": ["Reference Global radiation", "Smartphone estimated radiation"], "range": ["#0083b6", "#a20b0b"]},
          "legend": {
            "orient": "none",
            "legendX": 277,
            "legendY": 581,
            "direction": "horizontal",
            "title": null,
            "symbolType": "stroke",
            "symbolStrokeWidth": 3,
            "symbolSize": 400,
            "labelFont": "Liberation Sans",
            "labelFontSize": 14.8,
            "labelColor": "#000000",
            "labelLimit": 400,
            "labelOffset": 12,
            "columnPadding": 13
          }
        }
      }
    },
    {
      "data": {"name": "phone"},
      "mark": {"type": "line", "strokeWidth": 3, "strokeJoin": "round", "strokeCap": "round"},
      "encoding": {
        "color": {"datum": "Smartphone estimated radiation", "type": "nominal"}
      }
    }
  ]
}
